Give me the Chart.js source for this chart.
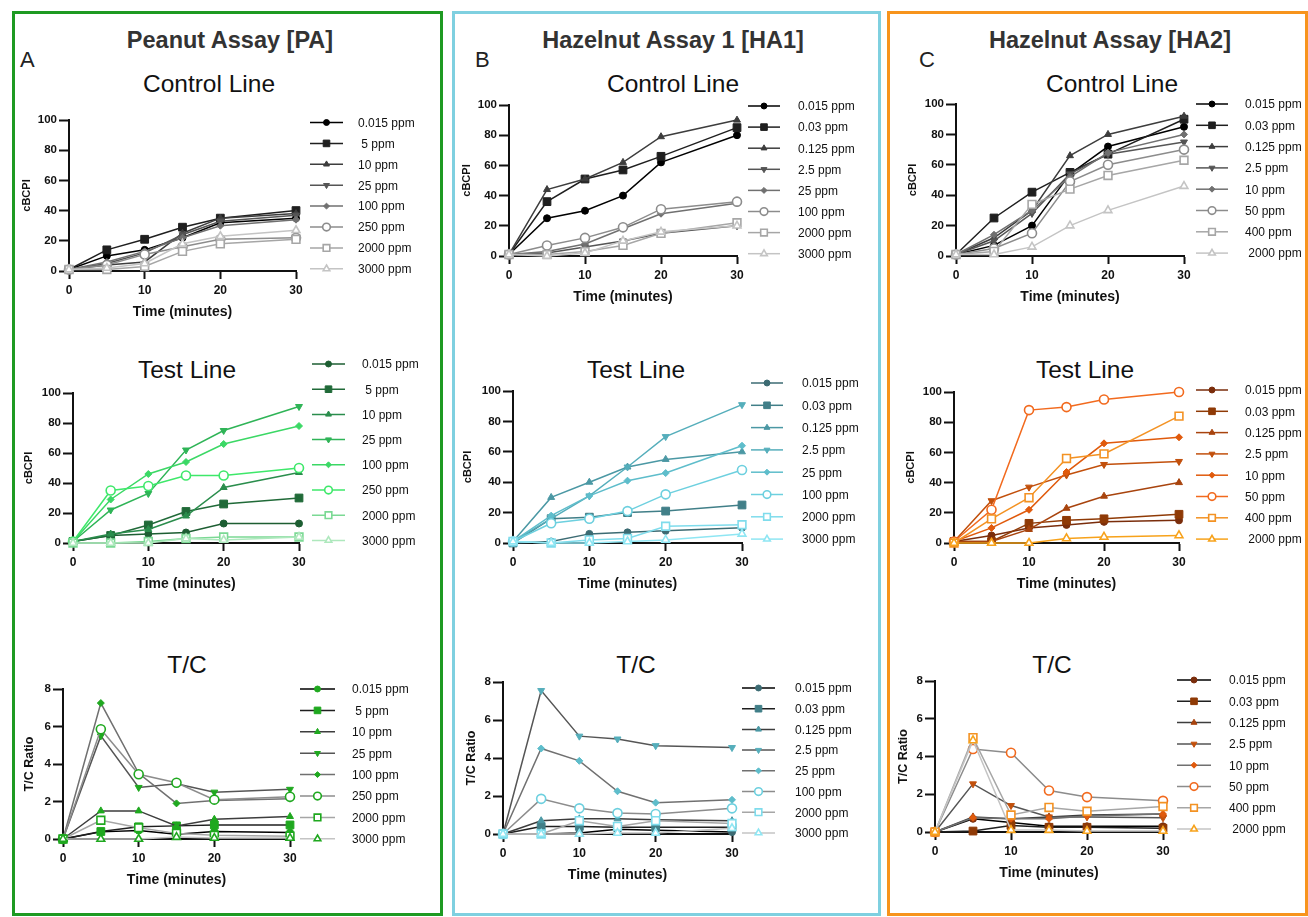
<!DOCTYPE html>
<html>
<head>
<meta charset="utf-8">
<title>PA / HA1 / HA2 assays</title>
<script src="https://cdn.jsdelivr.net/npm/chart.js@4.4.0/dist/chart.umd.min.js"></script>
<style>
  body { margin: 0; width: 1308px; height: 917px; background: #fff; position: relative; overflow: hidden;
         font-family: "Liberation Sans", Arial, sans-serif; }
  .box { position: absolute; top: 11px; height: 905px; border: 3px solid; box-sizing: border-box; }
  .txt { position: absolute; white-space: nowrap; transform: translate(-50%, -50%); }
  .head { font-weight: bold; font-size: 23.5px; color: #333; }
  .letter { font-size: 22px; color: #222; transform: none; }
  .sub { font-size: 24.5px; color: #111; }
  canvas { position: absolute; }
</style>
</head>
<body>
<div class="box" style="left:12px;width:431px;border-color:#1e9a22"></div>
<div class="box" style="left:452px;width:429px;border-color:#7fd0e0"></div>
<div class="box" style="left:887px;width:421px;border-color:#f7941d"></div>

<div class="txt head" style="left:230px;top:40px">Peanut Assay [PA]</div>
<div class="txt head" style="left:673px;top:40px">Hazelnut Assay 1 [HA1]</div>
<div class="txt head" style="left:1110px;top:40px">Hazelnut Assay [HA2]</div>
<div class="txt letter" style="left:20px;top:47px">A</div>
<div class="txt letter" style="left:475px;top:47px">B</div>
<div class="txt letter" style="left:919px;top:47px">C</div>

<div class="txt sub" style="left:209px;top:84px">Control Line</div>
<div class="txt sub" style="left:187px;top:370px">Test Line</div>
<div class="txt sub" style="left:187px;top:665px">T/C</div>
<div class="txt sub" style="left:673px;top:84px">Control Line</div>
<div class="txt sub" style="left:636px;top:370px">Test Line</div>
<div class="txt sub" style="left:636px;top:665px">T/C</div>
<div class="txt sub" style="left:1112px;top:84px">Control Line</div>
<div class="txt sub" style="left:1085px;top:370px">Test Line</div>
<div class="txt sub" style="left:1052px;top:665px">T/C</div>

<script>
// --- data ---
const times = [0, 5, 10, 15, 20, 30];
const timeTicks = [0, 10, 20, 30];
const cbcpiTicks = [0, 20, 40, 60, 80, 100];
const ratioTicks = [0, 2, 4, 6, 8];

const paLabels = ['0.015 ppm', ' 5 ppm', '10 ppm', '25 ppm', '100 ppm', '250 ppm', '2000 ppm', '3000 ppm'];
const ha1Labels = ['0.015 ppm', '0.03 ppm', '0.125 ppm', '2.5 ppm', '25 ppm', '100 ppm', '2000 ppm', '3000 ppm'];
const ha2Labels = ['0.015 ppm', '0.03 ppm', '0.125 ppm', '2.5 ppm', '10 ppm', '50 ppm', '400 ppm', ' 2000 ppm'];

const paControl = [
  [1, 10, 14, 22, 32, 35],
  [1, 14, 21, 29, 35, 40],
  [1, 4, 6, 25, 35, 38],
  [1, 5, 12, 24, 33, 37],
  [1, 6, 13, 22, 30, 34],
  [1, 4, 11, 16, 21, 22],
  [1, 1, 3, 13, 18, 21],
  [1, 2, 5, 18, 23, 27]
];
const paTest = [
  [1, 5, 6, 7, 13, 13],
  [1, 5, 12, 21, 26, 30],
  [1, 6, 9, 18, 37, 47],
  [1, 22, 33, 62, 75, 91],
  [1, 29, 46, 54, 66, 78],
  [1, 35, 38, 45, 45, 50],
  [0, 0, 1, 3, 4, 4],
  [0, 0, 0, 3, 2, 4]
];
const paRatio = [
  [0, 0.38, 0.45, 0.25, 0.4, 0.35],
  [0, 0.4, 0.65, 0.7, 0.75, 0.75],
  [0, 1.5, 1.5, 0.7, 1.05, 1.2],
  [0, 5.5, 2.75, 2.95, 2.5, 2.65],
  [0, 7.25, 3.5, 1.9, 2.05, 2.15],
  [0, 5.85, 3.45, 3.0, 2.1, 2.25],
  [0, 1.0, 0.6, 0.3, 0.2, 0.15],
  [0, 0, 0, 0.1, 0.05, 0.05]
];

const ha1Control = [
  [1, 25, 30, 40, 62, 80],
  [1, 36, 51, 57, 66, 85],
  [1, 44, 51, 62, 79, 90],
  [1, 2, 6, 10, 15, 20],
  [1, 3, 8, 18, 28, 35],
  [1, 7, 12, 19, 31, 36],
  [1, 1, 3, 7, 15, 22],
  [1, 0, 2, 10, 16, 20]
];
const ha1Test = [
  [0, 1, 6, 7, 8, 10],
  [0, 16, 17, 20, 21, 25],
  [1, 30, 40, 50, 55, 60],
  [1, 16, 31, 50, 70, 91],
  [1, 18, 31, 41, 46, 64],
  [1, 13, 16, 21, 32, 48],
  [1, 0, 2, 3, 11, 12],
  [1, 0, 0, 1, 2, 6]
];
const ha1Ratio = [
  [0, 0, 0.05, 0.25, 0.2, 0.1],
  [0, 0.4, 0.4, 0.35, 0.35, 0.35],
  [0, 0.7, 0.8, 0.8, 0.75, 0.7],
  [0, 7.55, 5.15, 5.0, 4.65, 4.55],
  [0, 4.5, 3.85, 2.25, 1.65, 1.8],
  [0, 1.85, 1.35, 1.1, 1.05, 1.35],
  [0, 0, 0.7, 0.4, 0.7, 0.55],
  [0, 0, 0, 0.05, 0.05, 0.3]
];

const ha2Control = [
  [1, 7, 20, 54, 72, 85],
  [1, 25, 42, 55, 67, 90],
  [1, 12, 30, 66, 80, 92],
  [1, 10, 28, 54, 67, 75],
  [1, 14, 30, 52, 68, 80],
  [1, 5, 15, 49, 60, 70],
  [1, 3, 34, 44, 53, 63],
  [1, 1, 6, 20, 30, 46]
];
const ha2Test = [
  [1, 5, 10, 12, 14, 15],
  [1, 1, 13, 15, 16, 19],
  [1, 1, 9, 23, 31, 40],
  [1, 28, 37, 45, 52, 54],
  [1, 10, 22, 47, 66, 70],
  [1, 22, 88, 90, 95, 100],
  [0, 16, 30, 56, 59, 84],
  [0, 0, 0, 3, 4, 5]
];
const ha2Ratio = [
  [0, 0.7, 0.5, 0.3, 0.3, 0.3],
  [0, 0.05, 0.35, 0.25, 0.25, 0.2],
  [0, 0.8, 0.7, 0.8, 0.9, 0.95],
  [0, 2.55, 1.4, 0.8, 0.8, 0.75],
  [0, 0.75, 0.7, 0.7, 0.85, 0.95],
  [0, 4.4, 4.2, 2.2, 1.85, 1.65],
  [0, 5.0, 0.9, 1.3, 1.1, 1.35],
  [0, 4.85, 0.1, 0.1, 0.05, 0.05]
];

// --- styles ---
const FONT = '"Liberation Sans", Arial, sans-serif';
const grays = ['#000000', '#1f1f1f', '#3d3d3d', '#555555', '#707070', '#8c8c8c', '#a6a6a6', '#c4c4c4'];
const greens = ['#1d5e32', '#206a38', '#2a8d4c', '#2fb457', '#3bd865', '#3ee86a', '#7bd994', '#aee8bd'];
const teals = ['#3c6b73', '#417f88', '#4b98a4', '#55aebb', '#5ebdcb', '#6dd0df', '#7fdcec', '#8fe6f3'];
const oranges = ['#7a2d0b', '#8f3a06', '#a8440e', '#c2500c', '#e05a0c', '#f26a1e', '#f39223', '#f7a21b'];
const paMarkerGreen = Array(8).fill('#1fa81f');

const markers = [
  { style: 'circle', r: 3.5, open: false, rot: 0 },
  { style: 'rect', r: 5.5, open: false, rot: 0 },
  { style: 'triangle', r: 4, open: false, rot: 0 },
  { style: 'triangle', r: 4, open: false, rot: 180 },
  { style: 'rectRot', r: 3.5, open: false, rot: 0 },
  { style: 'circle', r: 4.5, open: true, rot: 0 },
  { style: 'rect', r: 5.5, open: true, rot: 0 },
  { style: 'triangle', r: 4.5, open: true, rot: 0 }
];

// legend beside the plot: line + marker + label, one row per series
function drawSideLegend(ctx, sets, o) {
  ctx.save();
  sets.forEach((ds, i) => {
    const y = o.y0 + i * o.dy - o.top;
    const x1 = o.x1 - o.left, x2 = o.x2 - o.left;
    ctx.strokeStyle = ds.borderColor;
    ctx.lineWidth = ds.borderWidth;
    ctx.beginPath();
    ctx.moveTo(x1, y);
    ctx.lineTo(x2, y);
    ctx.stroke();
    ctx.fillStyle = ds.pointBackgroundColor;
    ctx.strokeStyle = ds.pointBorderColor;
    ctx.lineWidth = ds.pointBorderWidth;
    Chart.helpers.drawPoint(ctx, {
      pointStyle: ds.pointStyle, radius: ds.pointRadius * 0.85,
      rotation: ds.pointRotation, borderWidth: ds.pointBorderWidth
    }, (x1 + x2) / 2, y);
    ctx.fillStyle = '#111';
    ctx.font = '12px ' + FONT;
    ctx.textBaseline = 'middle';
    ctx.textAlign = 'left';
    ctx.fillText(ds.label, o.tx - o.left, y + 1);
  });
  ctx.restore();
}

const YW = 55, XH = 50, PT = 14;

function makePanel(p) {
  const left = p.L - YW;
  const top = Math.min(p.T - PT, Math.floor(p.legend.y0 - 12));
  const width = p.legendRight - left;
  const height = (p.B - top) + XH;
  const canvas = document.createElement('canvas');
  canvas.width = width;
  canvas.height = height;
  canvas.style.left = left + 'px';
  canvas.style.top = top + 'px';
  document.body.appendChild(canvas);

  const series = p.values.map((vals, i) => {
    const m = markers[i];
    return {
      label: p.labels[i],
      data: times.map((t, k) => ({ x: t, y: vals[k] })),
      borderColor: p.lineColors[i],
      borderWidth: 1.5,
      pointStyle: m.style,
      pointRadius: m.r,
      pointRotation: m.rot,
      pointBackgroundColor: m.open ? '#ffffff' : p.markerColors[i],
      pointBorderColor: p.markerColors[i],
      pointBorderWidth: m.open ? 1.6 : 1,
      clip: false,
      tension: 0
    };
  });

  const yTitleSize = p.yTitle === 'cBCPI' ? 11 : 12.5;
  const yTitlePad = YW - p.yTitleOff - yTitleSize * 0.6;
  const legendOpts = Object.assign({ left: left, top: top }, p.legend);

  new Chart(canvas, {
    type: 'line',
    // first series drawn last so it sits on top
    data: { datasets: series.slice().reverse() },
    options: {
      responsive: false,
      animation: false,
      events: [],
      layout: { padding: { left: 0, top: p.T - top, right: width - YW - (p.R - p.L), bottom: 0 } },
      plugins: {
        legend: { display: false },
        tooltip: { enabled: false }
      },
      scales: {
        x: {
          type: 'linear', min: 0, max: 30,
          afterBuildTicks: s => { s.ticks = timeTicks.map(v => ({ value: v })); },
          afterFit: s => { s.height = XH; s.paddingLeft = 0; s.paddingRight = 0; },
          ticks: { font: { family: FONT, size: 12, weight: 'bold' }, color: '#111', padding: 4, maxRotation: 0, autoSkip: false },
          grid: { drawOnChartArea: false, drawTicks: true, tickLength: 8, tickWidth: 2, tickColor: '#111' },
          border: { display: true, color: '#111', width: 2 },
          title: { display: true, text: 'Time (minutes)', color: '#111',
                   font: { family: FONT, size: 14, weight: 'bold' }, padding: { top: 0, bottom: 0 } }
        },
        y: {
          type: 'linear', min: 0, max: p.yMax,
          afterBuildTicks: s => { s.ticks = p.yTicks.map(v => ({ value: v })); },
          afterFit: s => { s.width = YW; s.paddingTop = 0; s.paddingBottom = 0; },
          ticks: { font: { family: FONT, size: 11.5, weight: 'bold' }, color: '#111', padding: 2, autoSkip: false },
          grid: { drawOnChartArea: false, drawTicks: true, tickLength: 10, tickWidth: 2, tickColor: '#111' },
          border: { display: true, color: '#111', width: 2 },
          title: { display: true, text: p.yTitle, color: '#111',
                   font: { family: FONT, size: yTitleSize, weight: 'bold' }, padding: { top: yTitlePad, bottom: 0 } }
        }
      }
    },
    plugins: [{
      id: 'sideLegend',
      afterDraw(chart) { drawSideLegend(chart.ctx, series, legendOpts); }
    }]
  });
}

const panels = [
  { values: paControl, labels: paLabels, lineColors: grays, markerColors: grays, yMax: 100, yTicks: cbcpiTicks, yTitle: 'cBCPI', yTitleOff: 42,
    L: 69, R: 296, T: 120, B: 271, legendRight: 435, legend: { x1: 310, x2: 343, tx: 358, y0: 122.5, dy: 20.9 } },
  { values: paTest, labels: paLabels, lineColors: greens, markerColors: greens, yMax: 100, yTicks: cbcpiTicks, yTitle: 'cBCPI', yTitleOff: 44,
    L: 73, R: 299, T: 393, B: 543, legendRight: 435, legend: { x1: 312, x2: 345, tx: 362, y0: 364, dy: 25.2 } },
  { values: paRatio, labels: paLabels, lineColors: grays, markerColors: paMarkerGreen, yMax: 8, yTicks: ratioTicks, yTitle: 'T/C Ratio', yTitleOff: 33,
    L: 63, R: 290, T: 689, B: 839, legendRight: 435, legend: { x1: 300, x2: 335, tx: 352, y0: 689, dy: 21.4 } },

  { values: ha1Control, labels: ha1Labels, lineColors: grays, markerColors: grays, yMax: 100, yTicks: cbcpiTicks, yTitle: 'cBCPI', yTitleOff: 42,
    L: 509, R: 737, T: 105, B: 256, legendRight: 876, legend: { x1: 748, x2: 780, tx: 798, y0: 106, dy: 21.1 } },
  { values: ha1Test, labels: ha1Labels, lineColors: teals, markerColors: teals, yMax: 100, yTicks: cbcpiTicks, yTitle: 'cBCPI', yTitleOff: 45,
    L: 513, R: 742, T: 391, B: 543, legendRight: 876, legend: { x1: 751, x2: 783, tx: 802, y0: 383, dy: 22.3 } },
  { values: ha1Ratio, labels: ha1Labels, lineColors: grays, markerColors: teals, yMax: 8, yTicks: ratioTicks, yTitle: 'T/C Ratio', yTitleOff: 31,
    L: 503, R: 732, T: 682, B: 834, legendRight: 876, legend: { x1: 742, x2: 775, tx: 795, y0: 688, dy: 20.7 } },

  { values: ha2Control, labels: ha2Labels, lineColors: grays, markerColors: grays, yMax: 100, yTicks: cbcpiTicks, yTitle: 'cBCPI', yTitleOff: 43,
    L: 956, R: 1184, T: 104, B: 256, legendRight: 1306, legend: { x1: 1196, x2: 1228, tx: 1245, y0: 104, dy: 21.3 } },
  { values: ha2Test, labels: ha2Labels, lineColors: oranges, markerColors: oranges, yMax: 100, yTicks: cbcpiTicks, yTitle: 'cBCPI', yTitleOff: 43,
    L: 954, R: 1179, T: 392, B: 543, legendRight: 1306, legend: { x1: 1196, x2: 1228, tx: 1245, y0: 390, dy: 21.3 } },
  { values: ha2Ratio, labels: ha2Labels, lineColors: grays, markerColors: oranges, yMax: 8, yTicks: ratioTicks, yTitle: 'T/C Ratio', yTitleOff: 31,
    L: 935, R: 1163, T: 681, B: 832, legendRight: 1306, legend: { x1: 1177, x2: 1211, tx: 1229, y0: 680, dy: 21.3 } }
];

panels.forEach(makePanel);
</script>
</body>
</html>
